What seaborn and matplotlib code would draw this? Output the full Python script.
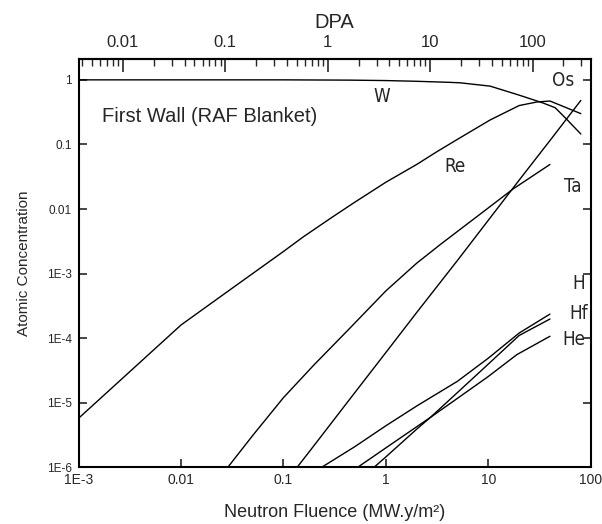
import numpy as np
import pandas as pd
import matplotlib
matplotlib.use("Agg")
import matplotlib.pyplot as plt
import seaborn as sns
from matplotlib.ticker import LogLocator, NullLocator, NullFormatter

# Values (fluence in MW.y/m2, atomic concentration)
fluence_W = [0.001, 0.01, 0.1, 0.45, 1, 2, 4.2, 5.3, 10.4, 20, 34, 45, 59, 80]
conc_W = [1.0, 1.0, 1.0, 0.99, 0.975, 0.95, 0.915, 0.90, 0.80, 0.58, 0.44, 0.37, 0.24, 0.145]

fluence_Re = [0.001, 0.01, 0.03, 0.1, 0.156, 0.3, 0.48, 1, 2, 3.14, 5, 10.4, 20, 30, 40, 80]
conc_Re = [5.75e-6, 1.6e-4, 5.6e-4, 2.2e-3, 3.7e-3, 7.5e-3, 0.0123, 0.026, 0.049,
           0.077, 0.12, 0.239, 0.40, 0.455, 0.47, 0.30]

fluence_Os = [0.136, 0.2, 0.5, 1, 2, 5, 10, 20, 40, 80]
conc_Os = [1e-6, 2.2e-6, 1.45e-5, 6e-5, 2.5e-4, 1.6e-3, 6.7e-3, 0.028, 0.115, 0.48]

fluence_Ta = [0.0286, 0.05, 0.1, 0.2, 0.43, 1, 2, 3.38, 5, 10, 17.5, 40]
conc_Ta = [1e-6, 3.1e-6, 1.2e-5, 3.9e-5, 1.35e-4, 5.4e-4, 1.45e-3, 2.8e-3, 4.5e-3, 0.0104,
           0.0205, 0.049]

fluence_H = [0.236, 0.5, 1, 2, 5, 10, 20, 40]
conc_H = [1e-6, 2.1e-6, 4.4e-6, 8.9e-6, 2.15e-5, 4.9e-5, 1.2e-4, 2.36e-4]

fluence_Hf = [0.766, 1, 2, 2.71, 5, 10, 20, 40]
conc_Hf = [1e-6, 1.45e-6, 3.9e-6, 5.9e-6, 1.44e-5, 3.97e-5, 1.1e-4, 1.98e-4]

fluence_He = [0.53, 1, 2, 2.71, 5, 10, 19, 40]
conc_He = [1e-6, 2.0e-6, 4.25e-6, 5.9e-6, 1.17e-5, 2.55e-5, 5.56e-5, 1.07e-4]

elements = ["W", "Re", "Os", "Ta", "H", "Hf", "He"]
fluences = [fluence_W, fluence_Re, fluence_Os, fluence_Ta, fluence_H, fluence_Hf, fluence_He]
concs = [conc_W, conc_Re, conc_Os, conc_Ta, conc_H, conc_Hf, conc_He]

# where each element name is written (data coords)
label_x = [0.91, 4.7, 54, 67, 76, 77, 68]
label_y = [0.55, 0.045, 0.97, 0.0227, 6.9e-4, 2.43e-4, 9.4e-5]

x_ticks = [1e-3, 0.01, 0.1, 1, 10, 100]
x_tick_labels = ["1E-3", "0.01", "0.1", "1", "10", "100"]
y_ticks = [1e-6, 1e-5, 1e-4, 1e-3, 0.01, 0.1, 1]
y_tick_labels = ["1E-6", "1E-5", "1E-4", "1E-3", "0.01", "0.1", "1"]
dpa_ticks = [0.01, 0.1, 1, 10, 100]
dpa_tick_labels = ["0.01", "0.1", "1", "10", "100"]
dpa_per_fluence = 3.7

# long-form table for seaborn
df = pd.concat([pd.DataFrame({"element": e, "fluence": f, "conc": c})
                for e, f, c in zip(elements, fluences, concs)], ignore_index=True)

sns.set_style("ticks")
plt.rcParams["font.family"] = ["Liberation Sans", "DejaVu Sans"]

fig = plt.figure(figsize=(6.02, 5.24), dpi=100)
ax = fig.add_axes([0.1306, 0.1082, 0.8507, 0.7786])

sns.lineplot(data=df, x="fluence", y="conc", units="element", estimator=None,
             sort=False, color="black", linewidth=1.0, ax=ax)

ax.set_xscale("log")
ax.set_yscale("log")
ax.set_xlim(1e-3, 100)
ax.set_ylim(1e-6, 2.08)

ax.set_xticks(x_ticks, labels=x_tick_labels)
ax.set_yticks(y_ticks, labels=y_tick_labels)
ax.xaxis.set_minor_locator(NullLocator())
ax.yaxis.set_minor_locator(NullLocator())
ax.tick_params(axis="x", direction="in", length=6, width=1.2, labelsize=10, pad=4, top=False)
ax.tick_params(axis="y", direction="in", length=6, width=1.2, labelsize=8.5, pad=5, right=True)
for s in ax.spines.values():
    s.set_linewidth(1.5)
    s.set_color("black")

ax.set_xlabel("Neutron Fluence (MW.y/m²)", fontsize=13, labelpad=12)
ax.set_ylabel("Atomic Concentration", fontsize=11, labelpad=11)

sec = ax.secondary_xaxis("top", functions=(lambda f: f * dpa_per_fluence,
                                           lambda d: d / dpa_per_fluence))
sec.set_xticks(dpa_ticks, labels=dpa_tick_labels)
sec.xaxis.set_minor_locator(LogLocator(base=10, subs=np.arange(2, 10)))
sec.xaxis.set_minor_formatter(NullFormatter())
sec.tick_params(which="major", direction="in", length=9, width=1.2, labelsize=12, pad=7)
sec.tick_params(which="minor", direction="in", length=5, width=1.0)
sec.spines["top"].set_linewidth(1.5)
sec.set_xlabel("DPA", fontsize=14.5, labelpad=5)

ax.text(0.045, 0.859, "First Wall (RAF Blanket)", transform=ax.transAxes,
        fontsize=14.5, va="center", ha="left")

for name, lx, ly in zip(elements, label_x, label_y):
    ax.text(lx, ly, name, fontsize=13.5, ha="center", va="center",
            family="DejaVu Sans", fontstretch="condensed")

fig.savefig("out.png", dpi=100)
